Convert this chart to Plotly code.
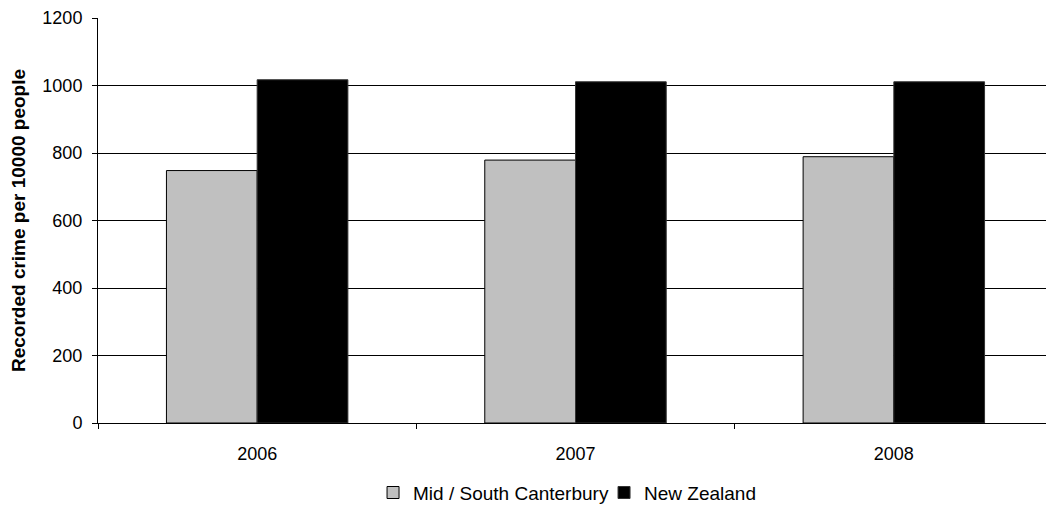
import plotly.graph_objects as go

years = ["2006", "2007", "2008"]
mid_south = [748, 779, 789]
new_zealand = [1017, 1011, 1011]
y_ticks = [0, 200, 400, 600, 800, 1000, 1200]

fig = go.Figure()
fig.add_trace(go.Bar(
    x=years, y=mid_south, name="Mid / South Canterbury",
    marker=dict(color="#C0C0C0", line=dict(color="#000000", width=1)),
))
fig.add_trace(go.Bar(
    x=years, y=new_zealand, name="New Zealand",
    marker=dict(color="#000000", line=dict(color="#333333", width=1)),
))

# the page body adds an 8px offset; size and margins compensate for it
fig.update_layout(
    width=1046, height=505,
    paper_bgcolor="white", plot_bgcolor="white",
    margin=dict(l=90, r=1, t=10, b=90),
    barmode="group", bargap=0.43, bargroupgap=0,
    font=dict(family="Liberation Sans, Arial, sans-serif", size=18, color="#000000"),
    showlegend=True,
    legend=dict(orientation="h", x=0.288, xanchor="left", y=-0.172, yanchor="middle",
                font=dict(size=19), itemwidth=30, traceorder="normal",
                entrywidth=186, entrywidthmode="pixels"),
    xaxis=dict(
        showline=True, linecolor="#000000", linewidth=1,
        ticks="outside", ticklen=5, tickcolor="#000000",
        tickson="boundaries", showgrid=False, ticklabelstandoff=14,
    ),
    yaxis=dict(
        range=[0, 1200], tickvals=y_ticks,
        showline=True, linecolor="#000000", linewidth=1,
        ticks="outside", ticklen=5, tickcolor="#000000",
        showgrid=True, gridcolor="#000000", gridwidth=1,
        zeroline=False, ticklabelstandoff=6,
        title=dict(text="<b>Recorded crime per 10000 people</b>", font=dict(size=19), standoff=14),
    ),
)

fig.write_html("out.html")
